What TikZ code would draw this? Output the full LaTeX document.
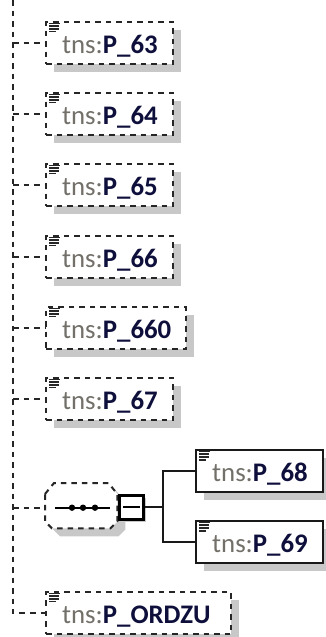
\documentclass[tikz,border=0pt]{standalone}
\usepackage{fontspec}
\setmainfont{Carlito}
\usetikzlibrary{calc,shadows}
\definecolor{tnsgray}{RGB}{115,112,105}
\definecolor{pname}{RGB}{15,15,60}
\definecolor{shade}{RGB}{200,200,200}
\newcommand{\xsdicon}[1]{%
  \foreach \i/\w in {0/11,1/10,2/10,3/7}{%
    \draw[line width=1.7pt,black!85] ($(#1.north west)+(4,{2.5+2.7*\i})$) -- ++(\w,0);}}
\newcommand{\lbl}[1]{\textcolor{tnsgray}{tns:}\textcolor{pname}{\bfseries #1}}
\begin{document}
\begin{tikzpicture}[x=1pt,y=-1pt,
  every node/.style={font=\fontsize{26.8}{30}\selectfont},
  dline/.style={line width=2pt,dash pattern=on 5.5pt off 5pt,black!85},
  tline/.style={line width=1.8pt,black!90},
  dbox/.style={draw=black!85,line width=2pt,dash pattern=on 5.5pt off 5pt,fill=white,
    minimum height=42pt,inner sep=0pt,anchor=west,
    general shadow={fill=shade,shadow xshift=8pt,shadow yshift=-8pt}},
  sbox/.style={draw=black!90,line width=1.8pt,fill=white,
    minimum height=42pt,inner sep=0pt,anchor=west,
    general shadow={fill=shade,shadow xshift=8pt,shadow yshift=-8pt}},
  ltext/.style={inner sep=0pt,anchor=base west}]
\useasboundingbox (0,0) rectangle (326,637);
% trunk
\coordinate (top) at (13,0);
\coordinate (bot) at (13,613);
% element boxes
\node[dbox,minimum width=127pt] (b63) at (45,43) {};
\node[dbox,minimum width=127pt] (b64) at (45,114) {};
\node[dbox,minimum width=127pt] (b65) at (45,185) {};
\node[dbox,minimum width=127pt] (b66) at (45,257) {};
\node[dbox,minimum width=140pt] (b660) at (45,328) {};
\node[dbox,minimum width=127pt] (b67) at (45,399) {};
\node[dbox,minimum width=185pt] (bORD) at (45,613) {};
% choice compositor
\node[inner sep=0pt,minimum width=72pt,minimum height=45pt,anchor=north west] (ch) at (45,483) {};
\path[draw=black!85,line width=2pt,dash pattern=on 5.5pt off 5pt,fill=white,
  general shadow={fill=shade,shadow xshift=8pt,shadow yshift=-8pt}]
  ($(ch.north west)+(0,11)$) -- ($(ch.north west)+(9,0)$) -- ($(ch.north east)+(-9,0)$)
  -- ($(ch.north east)+(0,11)$) -- ($(ch.south east)+(0,-7)$) -- ($(ch.south east)+(-7,0)$)
  -- ($(ch.south west)+(7,0)$) -- ($(ch.south west)+(0,-7)$) -- cycle;
\draw[line width=1.7pt] ($(ch.west)+(10,2)$) -- ($(ch.east)+(-7,2)$);
\foreach \px in {27,38,50}{\fill ($(ch.west)+(\px,2)$) circle (3.2pt);}
% minus box
\node[draw=black,line width=3pt,fill=white,minimum size=24pt,inner sep=0pt,
  general shadow={fill=shade,shadow xshift=3pt,shadow yshift=-3pt}] (mb) at (131,507) {};
\draw[line width=1.6pt] ($(mb.west)+(5,0)$) -- ($(mb.east)+(-5,0)$);
% children
\node[sbox,minimum width=127pt] (b68) at (195,471) {};
\node[sbox,minimum width=127pt] (b69) at (195,542) {};
\coordinate (j) at (163,507);
% connectors
\draw[dline] (top) -- (bot) -- (bORD.west);
\foreach \b in {b63,b64,b65,b66,b660,b67}{\draw[dline] (\b.west -| top) -- (\b.west);}
\draw[dline] (ch.west -| top) ++(0,2) -- ($(ch.west)+(0,2)$);
\draw[tline] (mb.east) -- (j);
\draw[tline] (j) |- (b68.west);
\draw[tline] (j) |- (b69.west);
% icons
\foreach \b in {b63,b64,b65,b66,b660,b67,bORD,b68,b69}{\xsdicon{\b}}
% labels
\node[ltext] (t63) at ($(b63.west)+(17,10)$) {\lbl{P\_63}};
\node[ltext] (t64) at ($(b64.west)+(17,10)$) {\lbl{P\_64}};
\node[ltext] (t65) at ($(b65.west)+(17,10)$) {\lbl{P\_65}};
\node[ltext] (t66) at ($(b66.west)+(17,10)$) {\lbl{P\_66}};
\node[ltext] (t660) at ($(b660.west)+(17,10)$) {\lbl{P\_660}};
\node[ltext] (t67) at ($(b67.west)+(17,10)$) {\lbl{P\_67}};
\node[ltext] (tORD) at ($(bORD.west)+(17,10)$) {\lbl{P\_ORDZU}};
\node[ltext] (t68) at ($(b68.west)+(17,10)$) {\lbl{P\_68}};
\node[ltext] (t69) at ($(b69.west)+(17,10)$) {\lbl{P\_69}};
\end{tikzpicture}
\end{document}
